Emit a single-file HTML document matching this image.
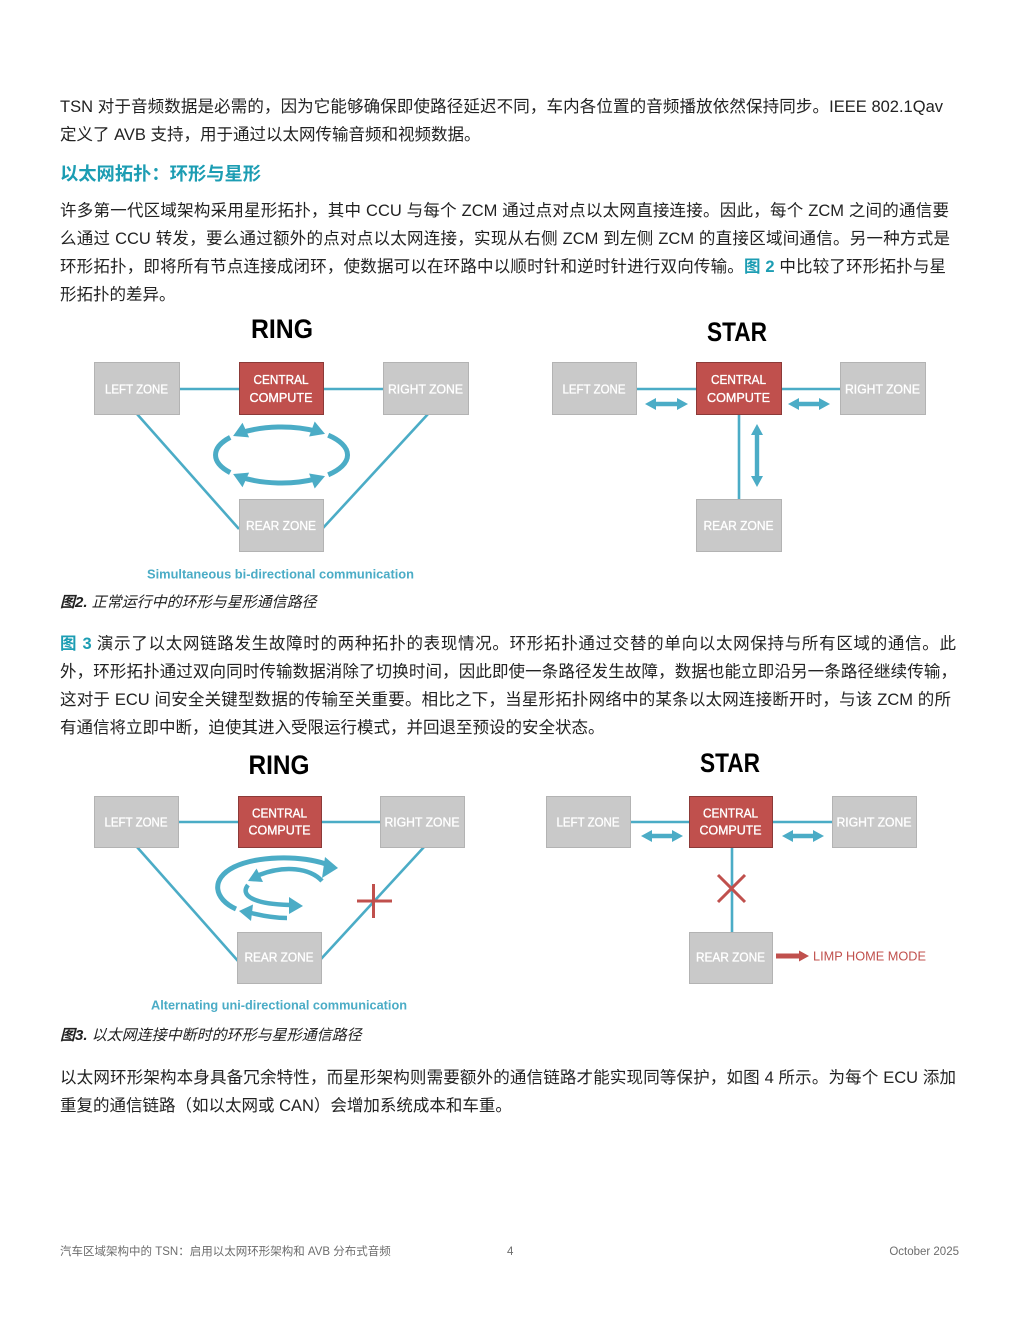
<!DOCTYPE html>
<html><head><meta charset="utf-8">
<style>
html,body{margin:0;padding:0;background:#fff;}
body{width:1020px;height:1320px;position:relative;overflow:hidden;font-family:"Liberation Sans","Noto Sans CJK SC",sans-serif;color:#222;}
.l{position:absolute;left:60px;font-size:16.5px;line-height:20px;white-space:nowrap;}
.j{text-align:justify;text-align-last:justify;white-space:normal;}
.b{color:#1c9db3;font-weight:bold;}
.h{position:absolute;left:60px;top:162.6px;font-size:18.3px;line-height:22px;font-weight:bold;color:#1c9db3;white-space:nowrap;}
.cap{position:absolute;left:60px;font-size:15px;line-height:18px;font-style:italic;white-space:nowrap;color:#222;}
.f{position:absolute;top:1245px;font-size:11.5px;line-height:14px;color:#6d6d6d;white-space:nowrap;}
svg{position:absolute;left:0;top:0;}
</style></head><body>

<div class="l j" style="top:96.6px;width:883px;">TSN 对于音频数据是必需的，因为它能够确保即使路径延迟不同，车内各位置的音频播放依然保持同步。IEEE 802.1Qav</div>
<div class="l" style="top:124.6px;">定义了 AVB 支持，用于通过以太网传输音频和视频数据。</div>

<div class="h">以太网拓扑：环形与星形</div>

<div class="l j" style="top:200.6px;width:889px;">许多第一代区域架构采用星形拓扑，其中 CCU 与每个 ZCM 通过点对点以太网直接连接。因此，每个 ZCM 之间的通信要</div>
<div class="l j" style="top:228.6px;width:890px;">么通过 CCU 转发，要么通过额外的点对点以太网连接，实现从右侧 ZCM 到左侧 ZCM 的直接区域间通信。另一种方式是</div>
<div class="l j" style="top:256.6px;width:886px;">环形拓扑，即将所有节点连接成闭环，使数据可以在环路中以顺时针和逆时针进行双向传输。<span class="b">图 2</span> 中比较了环形拓扑与星</div>
<div class="l" style="top:284.6px;">形拓扑的差异。</div>

<div class="cap" style="top:593.5px;"><b>图2.</b> 正常运行中的环形与星形通信路径</div>

<div class="l j" style="top:633.6px;width:896px;"><span class="b">图 3</span> 演示了以太网链路发生故障时的两种拓扑的表现情况。环形拓扑通过交替的单向以太网保持与所有区域的通信。此</div>
<div class="l j" style="top:661.6px;width:897px;">外，环形拓扑通过双向同时传输数据消除了切换时间，因此即使一条路径发生故障，数据也能立即沿另一条路径继续传输，</div>
<div class="l j" style="top:689.6px;width:891px;">这对于 ECU 间安全关键型数据的传输至关重要。相比之下，当星形拓扑网络中的某条以太网连接断开时，与该 ZCM 的所</div>
<div class="l" style="top:717.6px;">有通信将立即中断，迫使其进入受限运行模式，并回退至预设的安全状态。</div>

<div class="cap" style="top:1026.5px;"><b>图3.</b> 以太网连接中断时的环形与星形通信路径</div>

<div class="l j" style="top:1067.6px;width:896px;">以太网环形架构本身具备冗余特性，而星形架构则需要额外的通信链路才能实现同等保护，如图 4 所示。为每个 ECU 添加</div>
<div class="l" style="top:1095.6px;">重复的通信链路（如以太网或 CAN）会增加系统成本和车重。</div>

<div class="f" style="left:60px;">汽车区域架构中的 TSN：启用以太网环形架构和 AVB 分布式音频</div>
<div class="f" style="left:507px;">4</div>
<div class="f" style="right:61px;">October 2025</div>

<svg width="1020" height="1320" viewBox="0 0 1020 1320" xmlns="http://www.w3.org/2000/svg" font-family="Liberation Sans, sans-serif">
<g stroke="#4bacc6" stroke-width="2.6" fill="none">
  <line x1="179" y1="389" x2="239" y2="389"/>
  <line x1="323" y1="389" x2="383" y2="389"/>
  <line x1="137" y1="414" x2="239" y2="529"/>
  <line x1="428" y1="414" x2="323" y2="528"/>
  <line x1="636" y1="389" x2="696" y2="389"/>
  <line x1="781" y1="389" x2="840" y2="389"/>
  <line x1="739" y1="414" x2="739" y2="499"/>
  <line x1="178" y1="822" x2="238" y2="822"/>
  <line x1="321" y1="822" x2="380" y2="822"/>
  <line x1="137" y1="847" x2="238" y2="961"/>
  <line x1="424" y1="847" x2="321" y2="959"/>
  <line x1="630" y1="822" x2="689" y2="822"/>
  <line x1="772" y1="822" x2="832" y2="822"/>
  <line x1="732" y1="847" x2="732" y2="932"/>
</g>

<g stroke-width="1">
  <rect x="94.5" y="362.5" width="85" height="52" fill="#c9c9c9" stroke="#b3b3b3"/>
  <rect x="239.5" y="362.5" width="84" height="52" fill="#c0504d" stroke="#8c3a38"/>
  <rect x="383.5" y="362.5" width="85" height="52" fill="#c9c9c9" stroke="#b3b3b3"/>
  <rect x="239.5" y="499.5" width="84" height="52" fill="#c9c9c9" stroke="#b3b3b3"/>

  <rect x="552.5" y="362.5" width="84" height="52" fill="#c9c9c9" stroke="#b3b3b3"/>
  <rect x="696.5" y="362.5" width="85" height="52" fill="#c0504d" stroke="#8c3a38"/>
  <rect x="840.5" y="362.5" width="85" height="52" fill="#c9c9c9" stroke="#b3b3b3"/>
  <rect x="696.5" y="499.5" width="85" height="52" fill="#c9c9c9" stroke="#b3b3b3"/>

  <rect x="94.5" y="796.5" width="84" height="51" fill="#c9c9c9" stroke="#b3b3b3"/>
  <rect x="238.5" y="796.5" width="83" height="51" fill="#c0504d" stroke="#8c3a38"/>
  <rect x="380.5" y="796.5" width="84" height="51" fill="#c9c9c9" stroke="#b3b3b3"/>
  <rect x="237.5" y="932.5" width="84" height="51" fill="#c9c9c9" stroke="#b3b3b3"/>

  <rect x="546.5" y="796.5" width="84" height="51" fill="#c9c9c9" stroke="#b3b3b3"/>
  <rect x="689.5" y="796.5" width="83" height="51" fill="#c0504d" stroke="#8c3a38"/>
  <rect x="832.5" y="796.5" width="84" height="51" fill="#c9c9c9" stroke="#b3b3b3"/>
  <rect x="689.5" y="932.5" width="83" height="51" fill="#c9c9c9" stroke="#b3b3b3"/>
</g>

<g fill="#ffffff" stroke="#ffffff" stroke-width="0.35" font-size="13" text-anchor="middle">
  <text x="136.5" y="393.5" textLength="63" lengthAdjust="spacingAndGlyphs">LEFT ZONE</text>
  <text x="281" y="384" textLength="55" lengthAdjust="spacingAndGlyphs">CENTRAL</text>
  <text x="281" y="402" textLength="63" lengthAdjust="spacingAndGlyphs">COMPUTE</text>
  <text x="425.5" y="393.5" textLength="75" lengthAdjust="spacingAndGlyphs">RIGHT ZONE</text>
  <text x="281" y="530" textLength="70" lengthAdjust="spacingAndGlyphs">REAR ZONE</text>

  <text x="594" y="393.5" textLength="63" lengthAdjust="spacingAndGlyphs">LEFT ZONE</text>
  <text x="738.5" y="384" textLength="55" lengthAdjust="spacingAndGlyphs">CENTRAL</text>
  <text x="738.5" y="402" textLength="63" lengthAdjust="spacingAndGlyphs">COMPUTE</text>
  <text x="882.5" y="393.5" textLength="75" lengthAdjust="spacingAndGlyphs">RIGHT ZONE</text>
  <text x="738.5" y="530" textLength="70" lengthAdjust="spacingAndGlyphs">REAR ZONE</text>

  <text x="136" y="826.5" textLength="63" lengthAdjust="spacingAndGlyphs">LEFT ZONE</text>
  <text x="279.5" y="817.5" textLength="55" lengthAdjust="spacingAndGlyphs">CENTRAL</text>
  <text x="279.5" y="834.5" textLength="62" lengthAdjust="spacingAndGlyphs">COMPUTE</text>
  <text x="422" y="826.5" textLength="75" lengthAdjust="spacingAndGlyphs">RIGHT ZONE</text>
  <text x="279" y="961.5" textLength="69" lengthAdjust="spacingAndGlyphs">REAR ZONE</text>

  <text x="588" y="826.5" textLength="63" lengthAdjust="spacingAndGlyphs">LEFT ZONE</text>
  <text x="730.5" y="817.5" textLength="55" lengthAdjust="spacingAndGlyphs">CENTRAL</text>
  <text x="730.5" y="834.5" textLength="62" lengthAdjust="spacingAndGlyphs">COMPUTE</text>
  <text x="874" y="826.5" textLength="75" lengthAdjust="spacingAndGlyphs">RIGHT ZONE</text>
  <text x="730.5" y="961.5" textLength="69" lengthAdjust="spacingAndGlyphs">REAR ZONE</text>
</g>

<g fill="#000" font-size="27" font-weight="bold" text-anchor="middle">
  <text x="282" y="338" textLength="62" lengthAdjust="spacingAndGlyphs">RING</text>
  <text x="737" y="341" textLength="60" lengthAdjust="spacingAndGlyphs">STAR</text>
  <text x="279" y="774" textLength="61" lengthAdjust="spacingAndGlyphs">RING</text>
  <text x="730" y="772" textLength="60" lengthAdjust="spacingAndGlyphs">STAR</text>
</g>

<g fill="#4bacc6" font-size="13" font-weight="bold">
  <text x="147" y="578.5" textLength="267" lengthAdjust="spacingAndGlyphs">Simultaneous bi-directional communication</text>
  <text x="151" y="1009.5" textLength="256" lengthAdjust="spacingAndGlyphs">Alternating uni-directional communication</text>
</g>

<g stroke="#4bacc6" stroke-width="5" fill="none">
  <path d="M240.9 432.9 A66 28 0 0 1 316.5 431.3"/>
  <path d="M316.5 478.7 A66 28 0 0 1 240.9 477.1"/>
  <path d="M328.2 435.2 A66 28 0 0 1 328.2 474.8"/>
  <path d="M230.2 472.6 A66 28 0 0 1 230.2 437.4"/>
</g>
<g fill="#4bacc6">
  <polygon points="233.1,436 249.1,437.4 242.5,422.8"/>
  <polygon points="325,433.9 309.1,436.5 314.7,421.5"/>
  <polygon points="325,476.1 314.7,488.5 309.1,473.5"/>
  <polygon points="233.1,474 249.1,472.6 242.5,487.2"/>
</g>

<g stroke="#4bacc6" fill="none" stroke-linecap="butt">
  <path d="M236 909 C214 899 210 879 234 867 C257 856 298 855 326 864" stroke-width="5"/>
  <path d="M322 881 C310 868 285 865 259 875" stroke-width="4.5"/>
  <path d="M248 885 C240 895 252 904 290 905" stroke-width="4.5"/>
  <path d="M287 918 C275 918 263 916 251 913" stroke-width="4.5"/>
</g>
<g fill="#4bacc6">
  <polygon points="338,868 325,857 322,878"/>
  <polygon points="248,881 263,882 256.6,868.5"/>
  <polygon points="303,906 289,897 289,914"/>
  <polygon points="239,911 253,904.5 251,921"/>
</g>

<g fill="#4bacc6">
  <polygon points="645,404 656,398 656,401.8 677,401.8 677,398 688,404 677,410 677,406.2 656,406.2 656,410"/>
  <polygon points="788,404 799,398 799,401.8 819,401.8 819,398 830,404 819,410 819,406.2 799,406.2 799,410"/>
  <polygon points="757,424 763,435 759.2,435 759.2,476 763,476 757,487 751,476 754.8,476 754.8,435 751,435"/>
  <polygon points="641,836 652,830 652,833.8 672,833.8 672,830 683,836 672,842 672,838.2 652,838.2 652,842"/>
  <polygon points="782,836 793,830 793,833.8 813,833.8 813,830 824,836 813,842 813,838.2 793,838.2 793,842"/>
</g>

<g stroke="#c0504d" stroke-width="3">
  <line x1="357" y1="901" x2="392" y2="901"/>
  <line x1="373.5" y1="884" x2="373.5" y2="918"/>
  <line x1="718" y1="875" x2="745" y2="902"/>
  <line x1="745" y1="875" x2="718" y2="902"/>
</g>
<polygon fill="#c0504d" points="776,953.5 799,953.5 799,950.5 809,956 799,961.5 799,958.5 776,958.5"/>
<text x="813" y="960.5" fill="#c0504d" font-size="13" textLength="113" lengthAdjust="spacingAndGlyphs">LIMP HOME MODE</text>
</svg>
</body></html>
